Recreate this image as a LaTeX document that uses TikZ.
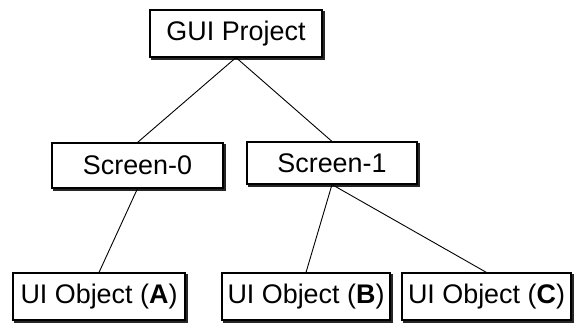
\documentclass[tikz,border=0pt]{standalone}
\usepackage{fontspec}
\setmainfont{Liberation Sans}
\begin{document}
\begin{tikzpicture}[x=1bp,y=-1bp,
  box/.style={draw=black, line width=1.1bp, fill=white, inner sep=0pt,
    font=\fontsize{27}{32}\selectfont},
  shade/.style={draw=black!85, line width=2bp},
  link/.style={draw=black, line width=0.9bp}]
\useasboundingbox (0,0) rectangle (575,324);
\node[box, minimum width=172bp, minimum height=47bp] (gui) at (236,33.5) {GUI Project};
\node[box, minimum width=171bp, minimum height=45bp] (s0) at (137.5,165.5) {Screen-0};
\node[box, minimum width=170bp, minimum height=42bp] (s1) at (332,163) {Screen-1};
\node[box, minimum width=172bp, minimum height=47bp] (ua) at (99,296.5) {UI Object (\textbf{A})};
\node[box, minimum width=168bp, minimum height=47bp] (ub) at (306,296.5) {UI Object (\textbf{B})};
\node[box, minimum width=169bp, minimum height=47bp] (uc) at (486.5,296.5) {UI Object (\textbf{C})};
\foreach \n in {gui,s0,s1,ua,ub,uc}{
  \draw[shade] ([xshift=1.5bp,yshift=-2bp]\n.north east) -- ([xshift=1.5bp,yshift=-1.5bp]\n.south east) -- ([xshift=2bp,yshift=-1.5bp]\n.south west);
}
\draw[link] (gui.south) -- (s0.north);
\draw[link] (gui.south) -- (s1.north);
\draw[link] (s0.south) -- (ua.north);
\draw[link] (s1.south) -- (ub.north);
\draw[link] (s1.south) -- (uc.north);
\end{tikzpicture}
\end{document}
